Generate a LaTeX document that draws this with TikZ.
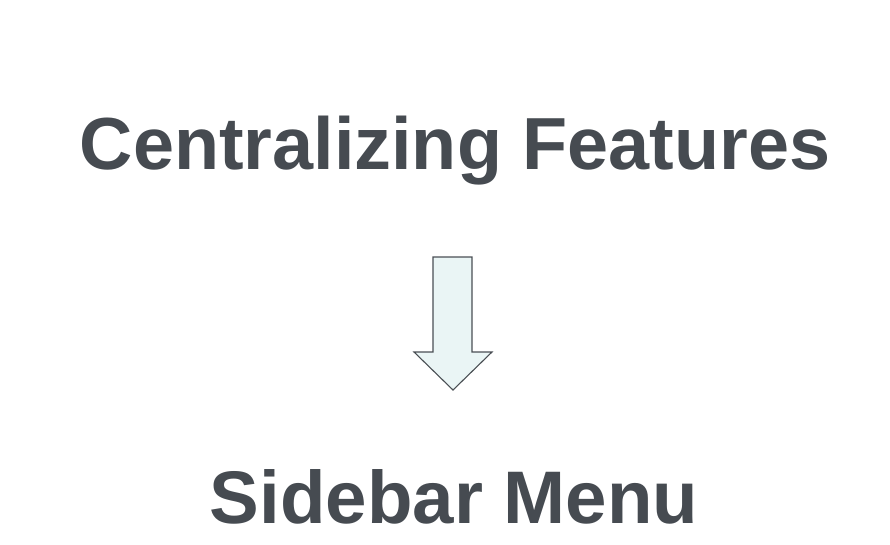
\documentclass[tikz,border=0pt]{standalone}
\usepackage{fontspec}
\setmainfont{Liberation Sans}
\definecolor{txt}{HTML}{464B51}
\definecolor{arrfill}{HTML}{EAF5F5}
\definecolor{arrline}{HTML}{4A4F54}
\begin{document}
\begin{tikzpicture}[x=1pt,y=1pt,
  title/.style={font=\fontsize{75}{80}\selectfont\bfseries, text=txt, anchor=base, inner sep=0pt}]
\useasboundingbox (0,0) rectangle (890,544);
\node[title, font=\fontsize{73.8}{80}\selectfont\bfseries] (top) at (455,374) {Centralizing Features};
\node[title, font=\fontsize{74.5}{80}\selectfont\bfseries] (bot) at (454,21) {Sidebar Menu};
\draw[arrline, fill=arrfill, line width=1.1pt, line join=miter]
  (433,287) -- (472,287) -- (472,192) -- (492,192) -- (453,154) -- (414,192) -- (433,192) -- cycle;
\end{tikzpicture}
\end{document}
